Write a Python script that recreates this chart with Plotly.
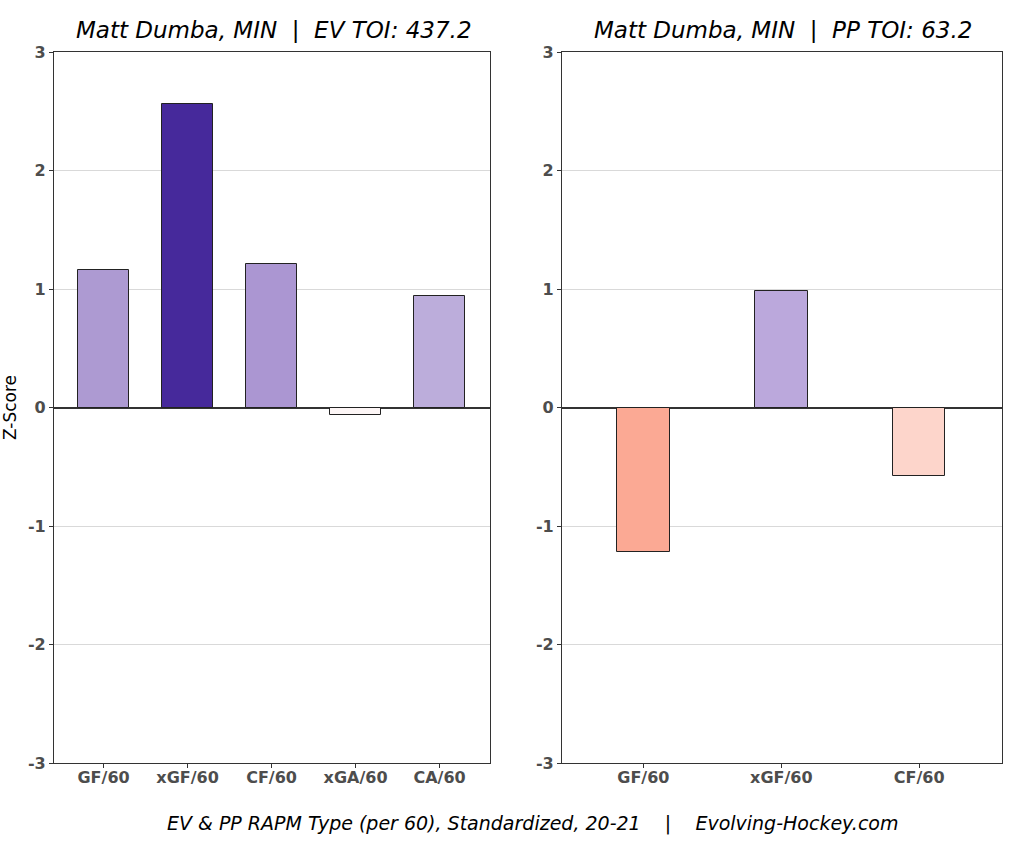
import plotly.graph_objects as go

# Data
ev_cats = ["GF/60", "xGF/60", "CF/60", "xGA/60", "CA/60"]
ev_vals = [1.16, 2.56, 1.21, -0.06, 0.94]
ev_colors = ["#ad9ad2", "#46299b", "#ab96d2", "#fdf6f6", "#bcaddb"]

pp_cats = ["GF/60", "xGF/60", "CF/60"]
pp_vals = [-1.22, 0.98, -0.58]
pp_colors = ["#fba994", "#bba8dc", "#fdd5cb"]

y_ticks = [-3, -2, -1, 0, 1, 2, 3]
y_ticktext = ["-3", "-2", "-1", "0", "1", "2", "3"]

ev_title = "Matt Dumba, MIN  |  EV TOI: 437.2"
pp_title = "Matt Dumba, MIN  |  PP TOI: 63.2"
caption = "EV & PP RAPM Type (per 60), Standardized, 20-21    |    Evolving-Hockey.com"

W, H = 1024, 843
fig = go.Figure()

fig.add_trace(go.Bar(
    x=list(range(len(ev_cats))), y=ev_vals, width=0.6,
    marker=dict(color=ev_colors, line=dict(color="#222222", width=1)),
    xaxis="x", yaxis="y", showlegend=False, hoverinfo="skip"))
fig.add_trace(go.Bar(
    x=list(range(len(pp_cats))), y=pp_vals, width=0.38,
    marker=dict(color=pp_colors, line=dict(color="#222222", width=1)),
    xaxis="x2", yaxis="y2", showlegend=False, hoverinfo="skip"))

ydom = [(H - 763) / H, (H - 52) / H]
tickfont = dict(family="DejaVu Sans", size=16, color="#4d4d4d", weight="bold")

common_y = dict(
    range=[-3, 3], tickvals=y_ticks, ticktext=y_ticktext,
    showgrid=True, gridcolor="#d9d9d9", gridwidth=1,
    zeroline=True, zerolinecolor="#333333", zerolinewidth=1.5,
    showline=True, linecolor="#333333", linewidth=1.2, mirror=True,
    ticks="outside", ticklen=4, tickcolor="#333333", tickfont=tickfont,
    domain=ydom, fixedrange=True, automargin=False)
common_x = dict(
    showgrid=False, zeroline=False,
    showline=True, linecolor="#333333", linewidth=1.2, mirror=True,
    ticks="outside", ticklen=4, tickcolor="#333333", tickfont=tickfont,
    ticklabelstandoff=-4, automargin=False)

fig.update_layout(
    width=W, height=H,
    margin=dict(l=0, r=0, t=0, b=0),
    paper_bgcolor="white", plot_bgcolor="white",
    bargap=0,
    xaxis=dict(common_x, domain=[54 / W, 490 / W], range=[-0.59, 4.6],
               tickvals=list(range(len(ev_cats))), ticktext=ev_cats),
    yaxis=dict(common_y, anchor="x",
               title=dict(text="Z-Score", font=dict(family="DejaVu Sans", size=17, color="black"), standoff=6)),
    xaxis2=dict(common_x, domain=[562 / W, 1002 / W], range=[-0.59, 2.6],
                tickvals=list(range(len(pp_cats))), ticktext=pp_cats, anchor="y2"),
    yaxis2=dict(common_y, anchor="x2"),
    annotations=[
        dict(text=ev_title, x=274 / W, y=(H - 30) / H, xref="paper", yref="paper",
             showarrow=False, font=dict(family="DejaVu Sans", size=23, color="black", style="italic"),
             xanchor="center", yanchor="middle"),
        dict(text=pp_title, x=783 / W, y=(H - 30) / H, xref="paper", yref="paper",
             showarrow=False, font=dict(family="DejaVu Sans", size=23, color="black", style="italic"),
             xanchor="center", yanchor="middle"),
        dict(text=caption, x=532 / W, y=(H - 823) / H, xref="paper", yref="paper",
             showarrow=False, font=dict(family="DejaVu Sans", size=19, color="black", style="italic"),
             xanchor="center", yanchor="middle"),
    ],
)

fig.write_html("out.html")
